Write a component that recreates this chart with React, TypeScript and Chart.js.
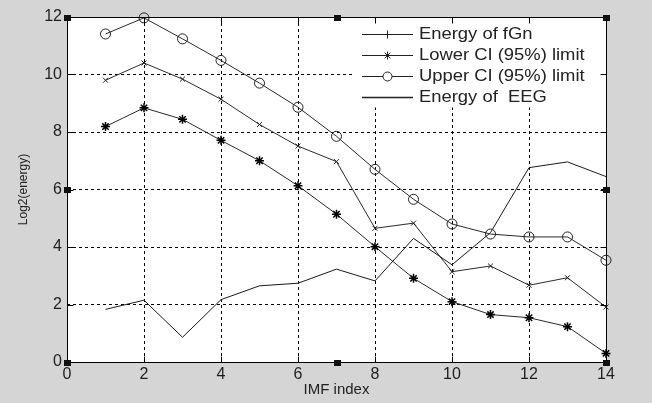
import React, { useEffect, useRef } from "react";
import { Chart, registerables } from "chart.js";

Chart.register(...registerables);

const imfIndex = [1, 2, 3, 4, 5, 6, 7, 8, 9, 10, 11, 12, 13, 14];
const fgnEnergy = [9.8, 10.4, 9.84, 9.14, 8.26, 7.51, 6.97, 4.65, 4.83, 3.14, 3.34, 2.67, 2.93, 1.91];
const lowerCI = [8.19, 8.84, 8.44, 7.71, 7.0, 6.13, 5.14, 4.01, 2.91, 2.1, 1.65, 1.54, 1.23, 0.3];
const upperCI = [11.41, 11.97, 11.24, 10.49, 9.7, 8.86, 7.85, 6.7, 5.66, 4.8, 4.45, 4.35, 4.35, 3.54];
const eegEnergy = [1.83, 2.15, 0.86, 2.17, 2.65, 2.74, 3.23, 2.82, 4.3, 3.38, 4.5, 6.76, 6.96, 6.45];

const legendLabels = ["Energy of fGn", "Lower CI (95%) limit", "Upper CI (95%) limit", "Energy of  EEG"];
const legendMarkers = ["cross", "star", "circle", "none"];
const xTitle = "IMF index";
const yTitle = "Log2(energy)";

const toPts = (ys: number[]) => ys.map((y, i) => ({ x: imfIndex[i], y }));

const decorPlugin = {
  id: "decor",
  beforeDraw(chart: any) {
    const { ctx, chartArea: a, width, height } = chart;
    ctx.save();
    ctx.fillStyle = "#d5d5d5";
    ctx.fillRect(0, 0, width, height);
    ctx.fillStyle = "#ffffff";
    ctx.fillRect(a.left, a.top, a.right - a.left, a.bottom - a.top);
    ctx.restore();
  },
  afterDatasetsDraw(chart: any) {
    const { ctx, chartArea: a } = chart;
    ctx.save();
    const bx = 355;
    ctx.fillStyle = "#ffffff";
    ctx.fillRect(bx, a.top + 0.5, a.right - bx, 90);
    for (let i = 0; i < legendLabels.length; i++) {
      const y = Math.round(a.top + 16.5 + i * 21.3) + 0.5;
      ctx.strokeStyle = "#222";
      ctx.lineWidth = legendMarkers[i] === "none" ? 1.6 : 1;
      ctx.setLineDash([]);
      ctx.beginPath();
      ctx.moveTo(362, y);
      ctx.lineTo(413, y);
      ctx.stroke();
      ctx.lineWidth = 1;
      const mx = 387.5;
      const m = legendMarkers[i];
      ctx.beginPath();
      if (m === "cross") {
        ctx.moveTo(mx, y - 4);
        ctx.lineTo(mx, y + 4);
      } else if (m === "star") {
        const r = 4;
        for (let k = 0; k < 4; k++) {
          const ang = (k * Math.PI) / 4;
          ctx.moveTo(mx - r * Math.cos(ang), y - r * Math.sin(ang));
          ctx.lineTo(mx + r * Math.cos(ang), y + r * Math.sin(ang));
        }
      } else if (m === "circle") {
        ctx.fillStyle = "#fff";
        ctx.arc(mx, y, 4.5, 0, Math.PI * 2);
        ctx.fill();
      }
      ctx.stroke();
      ctx.save();
      ctx.translate(419, y);
      ctx.scale(1.15, 1);
      ctx.fillStyle = "#222";
      ctx.font = "16px Arial, 'Liberation Sans', sans-serif";
      ctx.textBaseline = "middle";
      ctx.textAlign = "left";
      ctx.fillText(legendLabels[i], 0, 0);
      ctx.restore();
    }
    ctx.restore();
  },
  afterDraw(chart: any) {
    const { ctx, chartArea: a, scales } = chart;
    ctx.save();
    ctx.setLineDash([]);
    ctx.strokeStyle = "#000";
    ctx.lineWidth = 1;
    const L = Math.round(a.left) + 0.5;
    const R = Math.round(a.right) + 0.5;
    const T = Math.round(a.top) + 0.5;
    const B = Math.round(a.bottom) + 0.5;
    ctx.strokeRect(L, T, R - L, B - T);
    const tl = 6;
    ctx.beginPath();
    scales.x.ticks.forEach((t: any) => {
      const px = Math.round(scales.x.getPixelForValue(t.value)) + 0.5;
      ctx.moveTo(px, T);
      ctx.lineTo(px, T + tl);
      ctx.moveTo(px, B);
      ctx.lineTo(px, B - tl);
    });
    scales.y.ticks.forEach((t: any) => {
      const py = Math.round(scales.y.getPixelForValue(t.value)) + 0.5;
      ctx.moveTo(L, py);
      ctx.lineTo(L + tl, py);
      ctx.moveTo(R, py);
      ctx.lineTo(R - tl, py);
    });
    ctx.stroke();
    const mx = (L + R) / 2;
    const my = (T + B) / 2;
    const pts = [
      [L, T], [mx, T], [R, T],
      [L, my], [R, my],
      [L, B], [mx, B], [R, B],
    ];
    ctx.fillStyle = "#111";
    pts.forEach(([x, y]) => {
      ctx.fillRect(Math.round(x - 3.5), Math.round(y - 3), 7, 6);
    });
    ctx.restore();
  },
};

export default function App() {
  const ref = useRef<HTMLCanvasElement | null>(null);
  useEffect(() => {
    document.body.style.margin = "0";
    if (!ref.current) return;
    const lineColor = "#2a2a2a";
    const chart = new Chart(ref.current, {
      type: "scatter",
      data: {
        datasets: [
          {
            label: legendLabels[0],
            data: toPts(fgnEnergy),
            showLine: true,
            borderColor: lineColor,
            borderWidth: 1,
            pointStyle: "crossRot",
            pointRadius: 3.5,
            pointBorderColor: "#222",
            pointBorderWidth: 1,
            clip: false,
          },
          {
            label: legendLabels[1],
            data: toPts(lowerCI),
            showLine: true,
            borderColor: lineColor,
            borderWidth: 1,
            pointStyle: "star",
            pointRadius: 4.5,
            pointBorderColor: "#000",
            pointBorderWidth: 1.5,
            clip: false,
          },
          {
            label: legendLabels[2],
            data: toPts(upperCI),
            showLine: true,
            borderColor: lineColor,
            borderWidth: 1,
            pointStyle: "circle",
            pointRadius: 5,
            pointBackgroundColor: "rgba(0,0,0,0)",
            pointBorderColor: "#222",
            pointBorderWidth: 1,
            clip: false,
          },
          {
            label: legendLabels[3],
            data: toPts(eegEnergy),
            showLine: true,
            borderColor: "#1a1a1a",
            borderWidth: 1,
            pointRadius: 0,
            clip: false,
          },
        ],
      },
      options: {
        animation: false,
        responsive: false,
        devicePixelRatio: 1,
        events: [],
        layout: { padding: { top: 17, right: 46, left: 0, bottom: 0 } },
        plugins: {
          legend: { display: false },
          tooltip: { enabled: false },
        },
        scales: {
          x: {
            type: "linear",
            min: 0,
            max: 14,
            ticks: {
              stepSize: 2,
              color: "#1e1e1e",
              padding: 3,
              font: { family: "Arial, 'Liberation Sans', sans-serif", size: 16 },
            },
            grid: { color: "#000", lineWidth: 1, drawTicks: false },
            border: { display: false, dash: [3, 3] },
            title: {
              display: true,
              text: xTitle,
              color: "#222",
              font: { family: "Arial, 'Liberation Sans', sans-serif", size: 15 },
              padding: { top: 0, bottom: 4 },
            },
            afterFit: (s: any) => {
              s.height = 41;
            },
          },
          y: {
            type: "linear",
            min: 0,
            max: 12,
            ticks: {
              stepSize: 2,
              color: "#1e1e1e",
              padding: 5,
              font: { family: "Arial, 'Liberation Sans', sans-serif", size: 16 },
            },
            grid: { color: "#000", lineWidth: 1, drawTicks: false },
            border: { display: false, dash: [3, 3] },
            title: {
              display: true,
              text: yTitle,
              color: "#222",
              font: { family: "Arial, 'Liberation Sans', sans-serif", size: 12 },
              padding: { top: 16, bottom: 0 },
            },
            afterFit: (s: any) => {
              s.width = 67;
            },
          },
        },
      },
      plugins: [decorPlugin],
    } as any);
    return () => chart.destroy();
  }, []);
  return (
    <div style={{ width: 652, height: 403 }}>
      <canvas ref={ref} width={652} height={403} />
    </div>
  );
}
